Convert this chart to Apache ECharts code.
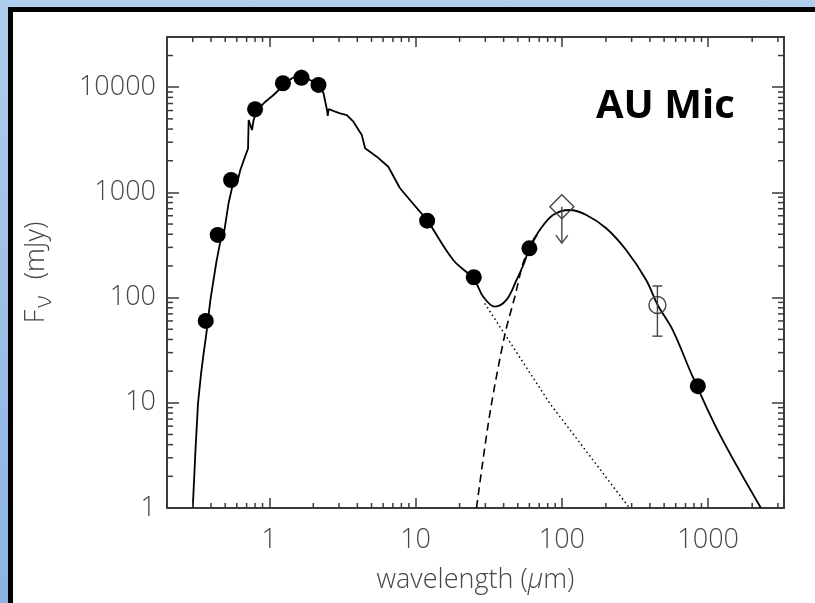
<!DOCTYPE html>
<html>
<head>
<meta charset="utf-8">
<script src="https://cdn.jsdelivr.net/npm/echarts@6/dist/echarts.min.js"></script>
<style>
  html, body { margin: 0; padding: 0; }
  body {
    width: 815px; height: 603px; overflow: hidden; position: relative;
    background: linear-gradient(to bottom, #afcdec, #8cb3e4);
  }
  .panel {
    position: absolute; left: 8px; top: 7px; width: 900px; height: 700px;
    border-left: 5px solid #000; border-top: 5px solid #000; background: #fff;
  }
  #main { position: absolute; left: 0; top: 0; width: 815px; height: 603px; }
</style>
</head>
<body>
<div class="panel"></div>
<div id="main"></div>
<script>
// axis ranges
var xMin = 0.2, xMax = 3300;
var yMin = 1, yMax = 30000;
var xLabels = [1, 10, 100, 1000];
var yLabels = [1, 10, 100, 1000, 10000];
var xMinorTicks = [0.3, 0.4, 0.5, 0.6, 0.7, 0.8, 0.9, 2, 3, 4, 5, 6, 7, 8, 9,
  20, 30, 40, 50, 60, 70, 80, 90, 200, 300, 400, 500, 600, 700, 800, 900, 2000, 3000];
var yMinorTicks = [2, 3, 4, 5, 6, 7, 8, 9, 20, 30, 40, 50, 60, 70, 80, 90,
  200, 300, 400, 500, 600, 700, 800, 900, 2000, 3000, 4000, 5000, 6000, 7000, 8000, 9000, 20000];

// photometry, filled circles (micron, mJy)
var photWave = [0.368, 0.444, 0.548, 0.80, 1.24, 1.66, 2.17, 12.0, 25, 60, 850];
var photFlux = [60, 394, 1312, 6170, 10900, 12300, 10500, 538, 156, 294, 14.4];

// upper limit at 100 micron (diamond + arrow)
var limitWave = [100];
var limitFlux = [731];
var limitArrowTo = [330];

// sub-mm point with error bar (open circle)
var openWave = [450];
var openFlux = [85];
var openLow = [43];
var openHigh = [129];

// total model, stellar part
var starWave = [0.30, 0.313, 0.326, 0.342, 0.356, 0.372, 0.396, 0.435, 0.47, 0.483, 0.49, 0.527, 0.56, 0.60, 0.612,
  0.634, 0.70, 0.716, 0.723, 0.762, 0.782, 0.82, 0.94, 1.07, 1.16, 1.30, 1.43, 1.60, 1.66, 1.75,
  1.90, 2.2, 2.35, 2.48, 2.51, 2.55, 2.6, 2.82, 3.05, 3.39, 3.76, 4.29, 4.52, 5.43, 6.51, 7.83];
var starFlux = [1, 3.5, 10, 19, 29.5, 46, 95, 218, 380, 440, 410, 788, 1150, 1450, 1330,
  1633, 2400, 2600, 4880, 3920, 4880, 6000, 7280, 8430, 9400, 11000, 12150, 13000, 14570, 12800,
  11700, 10300, 8750, 6070, 5330, 6200, 6000, 5850, 5650, 5440, 4700, 3510, 2625, 2185, 1755, 1094];

// total model, infrared part
var irWave = [7.83, 10.7, 12.0, 18.1, 25, 29.0, 34.8, 41.8, 49, 55.7, 60, 70.6, 87, 113, 147,
  201, 275, 377, 452, 573, 784, 1192, 2296];
var irFlux = [1094, 656, 545, 228, 150, 102, 82, 95, 147, 219, 300, 439, 610, 680, 610,
  456, 283, 147, 85, 49, 17.7, 5.1, 1];

// dust component (dashed)
var dustWave = [26.1, 32.2, 40.7, 47.7, 54.3, 60, 70.6];
var dustFlux = [1, 7.9, 44, 102, 212, 290, 439];

// photosphere beyond the dip (dotted)
var photoWave = [29.7, 82.6, 290];
var photoFlux = [88, 9.9, 1];

function pairs(xs, ys) {
  return xs.map(function (x, i) { return [x, ys[i]]; });
}

function isLabel(list, v) {
  for (var i = 0; i < list.length; i++) {
    if (Math.abs(v - list[i]) / list[i] < 1e-6) return true;
  }
  return false;
}

var chart = echarts.init(document.getElementById('main'), null, { renderer: 'canvas' });

var axisColor = '#3a3a3a';
var textColor = '#464646';
var labelFont = "'Open Sans', sans-serif";

function minorTicks(values, isX, len) {
  return {
    type: 'custom',
    silent: true,
    clip: false,
    z: 5,
    data: values.map(function (v) { return isX ? [v, yMin] : [xMin, v]; }),
    renderItem: function (params, api) {
      var cs = params.coordSys;
      var p = api.coord([api.value(0), api.value(1)]);
      var st = { stroke: axisColor, lineWidth: 1.5 };
      if (isX) {
        var b = cs.y + cs.height, t = cs.y;
        return { type: 'group', children: [
          { type: 'line', shape: { x1: p[0], y1: b, x2: p[0], y2: b - len }, style: st },
          { type: 'line', shape: { x1: p[0], y1: t, x2: p[0], y2: t + len }, style: st }
        ] };
      }
      var l = cs.x, r = cs.x + cs.width;
      return { type: 'group', children: [
        { type: 'line', shape: { x1: l, y1: p[1], x2: l + len, y2: p[1] }, style: st },
        { type: 'line', shape: { x1: r, y1: p[1], x2: r - len, y2: p[1] }, style: st }
      ] };
    }
  };
}

var option = {
  animation: false,
  title: {
    text: 'AU Mic',
    left: 591,
    top: 82,
    textStyle: { fontFamily: labelFont, fontWeight: 'bold', fontSize: 40, color: '#000' }
  },
  grid: { left: 167, right: 31, top: 37, bottom: 95 },
  xAxis: [{
    type: 'log', min: xMin, max: xMax, position: 'bottom',
    name: 'wavelength ({mu|μ}m)', nameLocation: 'middle', nameGap: 59,
    nameTextStyle: { fontFamily: labelFont, fontWeight: 300, fontSize: 27, color: textColor,
      rich: { mu: { fontFamily: labelFont, fontWeight: 300, fontSize: 27, fontStyle: 'italic', color: textColor } } },
    axisLine: { lineStyle: { color: axisColor, width: 2 } },
    axisTick: { inside: true, length: 10, lineStyle: { color: axisColor, width: 1.5 } },
    axisLabel: { margin: 19, fontFamily: labelFont, fontWeight: 300, fontSize: 27, color: textColor,
      formatter: function (v) { return isLabel(xLabels, v) ? String(Math.round(v)) : ''; } },
    splitLine: { show: false }
  }, {
    type: 'log', min: xMin, max: xMax, position: 'top',
    axisLine: { lineStyle: { color: axisColor, width: 2 } },
    axisTick: { inside: true, length: 10, lineStyle: { color: axisColor, width: 1.5 } },
    axisLabel: { show: false },
    splitLine: { show: false }
  }],
  yAxis: [{
    type: 'log', min: yMin, max: yMax, position: 'left',
    name: '{f|F}{s|ν}  (mJy)', nameLocation: 'middle', nameGap: 111, nameRotate: 90,
    nameTextStyle: { fontFamily: labelFont, fontWeight: 300, fontSize: 27, color: textColor,
      rich: {
        f: { fontFamily: labelFont, fontWeight: 300, fontSize: 27, color: textColor },
        s: { fontFamily: labelFont, fontWeight: 300, fontSize: 24, color: textColor, padding: [16, 2, 0, 2] }
      } },
    axisLine: { lineStyle: { color: axisColor, width: 2 } },
    axisTick: { inside: true, length: 12, lineStyle: { color: axisColor, width: 1.5 } },
    axisLabel: { margin: 11, fontFamily: labelFont, fontWeight: 300, fontSize: 27, color: textColor,
      formatter: function (v) { return isLabel(yLabels, v) ? String(Math.round(v)) : ''; } },
    splitLine: { show: false }
  }, {
    type: 'log', min: yMin, max: yMax, position: 'right',
    axisLine: { lineStyle: { color: axisColor, width: 2 } },
    axisTick: { inside: true, length: 12, lineStyle: { color: axisColor, width: 1.5 } },
    axisLabel: { show: false },
    splitLine: { show: false }
  }],
  series: [
    minorTicks(xMinorTicks, true, 5),
    minorTicks(yMinorTicks, false, 6),
    {
      name: 'photosphere', type: 'line', data: pairs(photoWave, photoFlux),
      showSymbol: false, silent: true, z: 3,
      lineStyle: { color: '#000', width: 1.5, type: [1.5, 3] }
    },
    {
      name: 'dust', type: 'line', data: pairs(dustWave, dustFlux),
      showSymbol: false, silent: true, smooth: 0.3, z: 3,
      lineStyle: { color: '#000', width: 1.6, type: [8, 5] }
    },
    {
      name: 'star', type: 'line', data: pairs(starWave, starFlux),
      showSymbol: false, silent: true, z: 4,
      lineStyle: { color: '#000', width: 1.8 }
    },
    {
      name: 'ir', type: 'line', data: pairs(irWave, irFlux),
      showSymbol: false, silent: true, smooth: 0.35, z: 4,
      lineStyle: { color: '#000', width: 1.8 }
    },
    {
      name: 'photometry', type: 'scatter', data: pairs(photWave, photFlux),
      symbol: 'circle', symbolSize: 16, z: 10,
      itemStyle: { color: '#000', opacity: 1 }
    },
    {
      name: 'limit', type: 'scatter', data: pairs(limitWave, limitFlux),
      symbol: 'diamond', symbolSize: [24, 24], z: 10,
      itemStyle: { color: 'rgba(0,0,0,0)', borderColor: '#444', borderWidth: 1.4, opacity: 1 }
    },
    {
      name: 'limitArrow', type: 'custom', silent: true, z: 10,
      data: limitWave.map(function (w, i) { return [w, limitFlux[i], limitArrowTo[i]]; }),
      renderItem: function (params, api) {
        var p0 = api.coord([api.value(0), api.value(1)]);
        var p1 = api.coord([api.value(0), api.value(2)]);
        var st = { stroke: '#444', lineWidth: 1.4, fill: null };
        return { type: 'group', children: [
          { type: 'line', shape: { x1: p0[0], y1: p0[1], x2: p1[0], y2: p1[1] }, style: st },
          { type: 'polyline', shape: { points: [[p1[0] - 6, p1[1] - 8], [p1[0], p1[1]], [p1[0] + 6, p1[1] - 8]] }, style: st }
        ] };
      }
    },
    {
      name: 'errorBar', type: 'custom', silent: true, z: 10,
      data: openWave.map(function (w, i) { return [w, openLow[i], openHigh[i]]; }),
      renderItem: function (params, api) {
        var lo = api.coord([api.value(0), api.value(1)]);
        var hi = api.coord([api.value(0), api.value(2)]);
        var st = { stroke: '#444', lineWidth: 1.4 };
        return { type: 'group', children: [
          { type: 'line', shape: { x1: lo[0], y1: lo[1], x2: hi[0], y2: hi[1] }, style: st },
          { type: 'line', shape: { x1: lo[0] - 5, y1: lo[1], x2: lo[0] + 5, y2: lo[1] }, style: st },
          { type: 'line', shape: { x1: hi[0] - 5, y1: hi[1], x2: hi[0] + 5, y2: hi[1] }, style: st }
        ] };
      }
    },
    {
      name: 'submm', type: 'scatter', data: pairs(openWave, openFlux),
      symbol: 'circle', symbolSize: 17, z: 11,
      itemStyle: { color: 'rgba(0,0,0,0)', borderColor: '#444', borderWidth: 1.4, opacity: 1 }
    }
  ]
};

chart.setOption(option);

window.onresize = function () {
  chart.resize();
};
</script>
</body>
</html>
